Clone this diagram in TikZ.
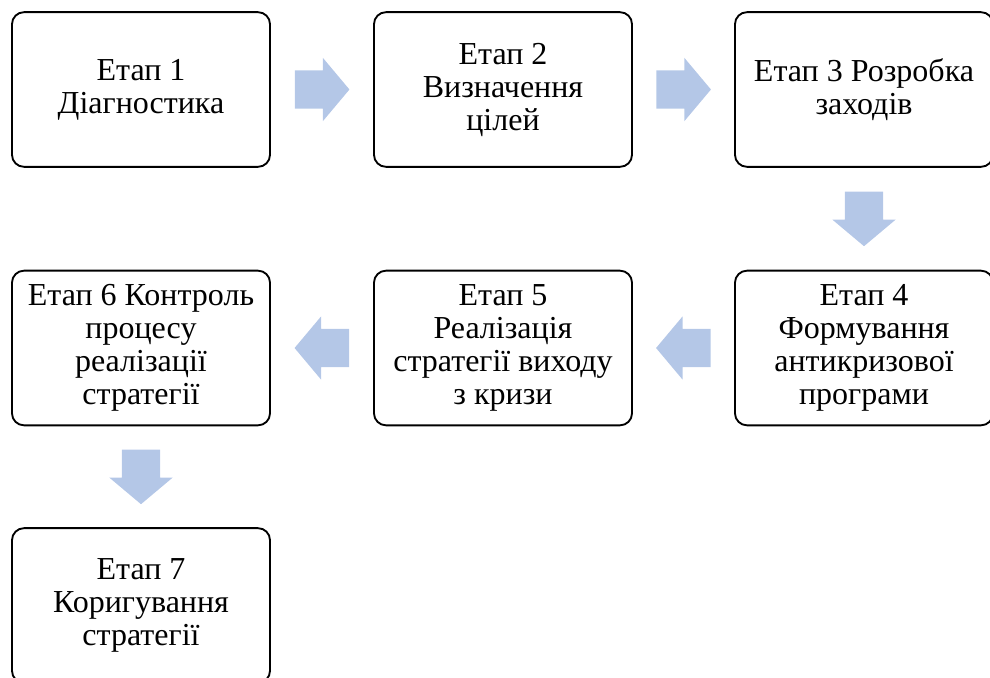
\documentclass[tikz,border=0pt]{standalone}
\usepackage{fontspec}
\setmainfont{Liberation Serif}
\usetikzlibrary{shapes.arrows,calc}
\definecolor{arrowblue}{RGB}{180,199,231}
\begin{document}
\begin{tikzpicture}[x=0.75pt,y=-0.75pt,
  stage/.style={draw, rounded corners=9pt, line width=1.4pt, minimum width=193.5pt, minimum height=116pt, align=center, inner sep=0pt, font=\fontsize{24}{24.75}\selectfont},
  blockarrow/.style={single arrow, fill=arrowblue, draw=none, anchor=tail, inner xsep=0pt, inner ysep=14.2pt, minimum height=41pt, single arrow head extend=9.4pt, single arrow tip angle=100}]
\useasboundingbox (0,0) rectangle (990,678);

\node[stage] (s1) at (141,89.5) {Етап 1\\Діагностика};
\node[stage] (s2) at (503,89.5) {Етап 2\\Визначення\\цілей};
\node[stage] (s3) at (864,89.5) {Етап 3 Розробка\\заходів};
\node[stage] (s4) at (864,348) {Етап 4\\Формування\\антикризової\\програми};
\node[stage] (s5) at (503,348) {Етап 5\\Реалізація\\стратегії виходу\\з кризи};
\node[stage] (s6) at (141,348) {Етап 6 Контроль\\процесу\\реалізації\\стратегії};
\node[stage] (s7) at (141,605.5) {Етап 7\\Коригування\\стратегії};

% block arrows sit in the middle of each gap
\node[blockarrow] (a12) at ($(s1.east)!0.5!(s2.west)+(-27.5,0)$) {};
\node[blockarrow] (a23) at ($(s2.east)!0.5!(s3.west)+(-27.5,0)$) {};
\node[blockarrow, rotate=-90] (a34) at ($(s3.south)!0.5!(s4.north)+(0,-27.5)$) {};
\node[blockarrow, rotate=180] (a45) at ($(s4.west)!0.5!(s5.east)+(27.5,0)$) {};
\node[blockarrow, rotate=180] (a56) at ($(s5.west)!0.5!(s6.east)+(27.5,0)$) {};
\node[blockarrow, rotate=-90] (a67) at ($(s6.south)!0.5!(s7.north)+(0,-27.5)$) {};
\end{tikzpicture}
\end{document}
